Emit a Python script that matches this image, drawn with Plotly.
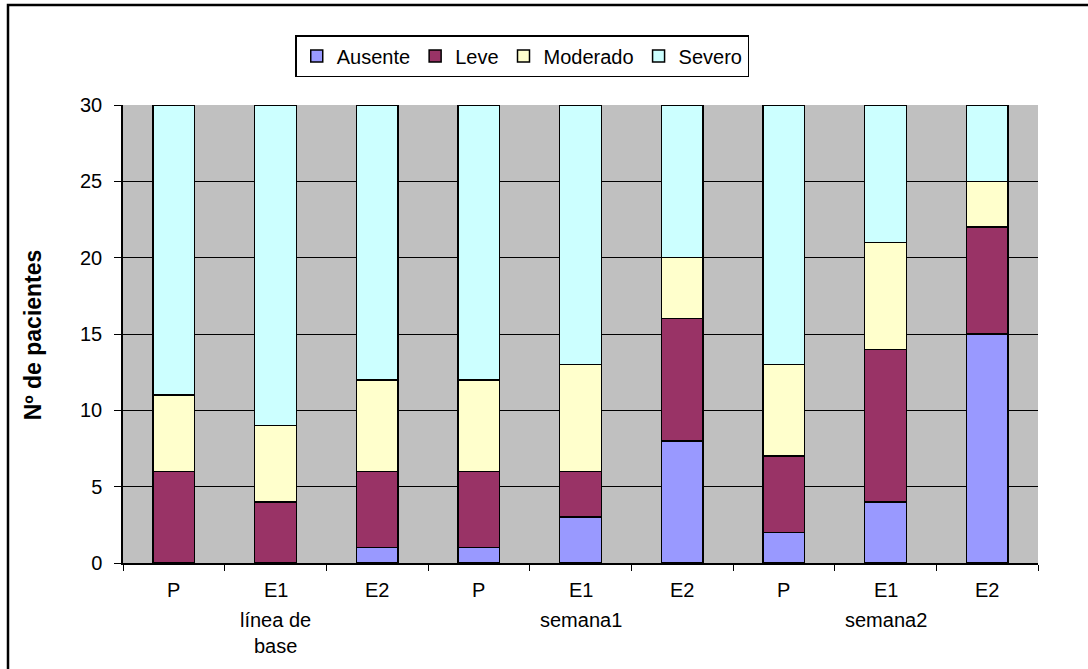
import plotly.graph_objects as go

categories = ["P", "E1", "E2", "P", "E1", "E2", "P", "E1", "E2"]
groups = ["línea de<br>base", "semana1", "semana2"]
ausente = [0, 0, 1, 1, 3, 8, 2, 4, 15]
leve = [6, 4, 5, 5, 3, 8, 5, 10, 7]
moderado = [5, 5, 6, 6, 7, 4, 6, 7, 3]
severo = [19, 21, 18, 18, 17, 10, 17, 9, 5]

series = [("Ausente", ausente, "#9999FF"), ("Leve", leve, "#993366"),
          ("Moderado", moderado, "#FFFFCC"), ("Severo", severo, "#CCFFFF")]

FONT = "Liberation Sans, Arial, sans-serif"
FS = 20
x = list(range(len(categories)))

fig = go.Figure()
for name, vals, col in series:
    fig.add_trace(go.Bar(x=x, y=vals, name=name,
                         marker=dict(color=col, line=dict(color="black", width=1.5)),
                         width=0.41))

annotations = []
for i, c in enumerate(categories):
    annotations.append(dict(x=i, y=0, xref="x", yref="y", text=c, showarrow=False,
                            yshift=-27, font=dict(family=FONT, size=FS, color="black")))
for g, lab in enumerate(groups):
    annotations.append(dict(x=g * 3 + 1, y=0, xref="x", yref="y", text=lab, showarrow=False,
                            yanchor="top", yshift=-44, font=dict(family=FONT, size=FS, color="black")))
annotations.append(dict(x=(33 - 123) / 915, y=0.497, xref="paper", yref="paper",
                        xanchor="center", yanchor="middle",
                        text="<b>Nº de pacientes</b>", textangle=-90, showarrow=False,
                        font=dict(family=FONT, size=23, color="black")))

fig.update_layout(
    barmode="stack",
    width=1088, height=669,
    margin=dict(l=123, r=50, t=105, b=106),
    paper_bgcolor="white", plot_bgcolor="#C0C0C0",
    font=dict(family=FONT, size=FS, color="black"),
    showlegend=True,
    legend=dict(orientation="h", x=0.48, y=1 - 35 / 669, xref="container", yref="container",
                xanchor="center", yanchor="top", traceorder="normal",
                bordercolor="black", borderwidth=1.5, bgcolor="white",
                font=dict(family=FONT, size=FS), itemwidth=30),
    xaxis=dict(range=[-0.5, 8.5], tickvals=[i - 0.5 for i in range(10)], ticktext=[""] * 10,
               ticks="outside", ticklen=6, tickcolor="black", showgrid=False,
               showline=True, linecolor="black", linewidth=1.5, zeroline=False),
    yaxis=dict(range=[0, 30], tickvals=[0, 5, 10, 15, 20, 25, 30], ticks="outside", ticklen=7,
               tickcolor="black", showgrid=True, gridcolor="black", gridwidth=1.2,
               showline=True, linecolor="black", linewidth=1.5, zeroline=False,
               ticklabelstandoff=8,
               tickfont=dict(family=FONT, size=FS)),
    annotations=annotations,
    shapes=[dict(type="rect", xref="paper", yref="paper",
                 x0=(8 - 123) / 915, x1=(1095 - 123) / 915,
                 y0=(563 - 680) / 458, y1=(563 - 5) / 458,
                 line=dict(color="black", width=2.5), layer="below")],
)
fig.write_html("out.html")
